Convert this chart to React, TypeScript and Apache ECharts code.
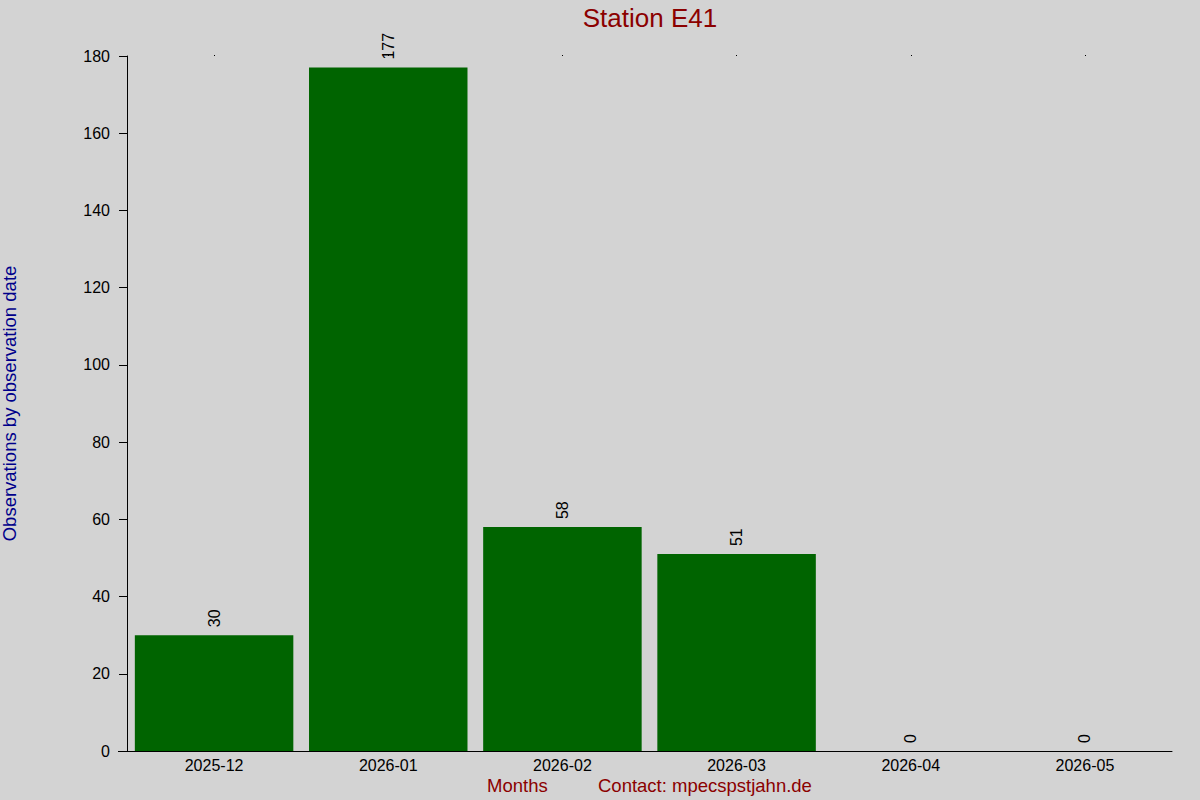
import { useEffect, useRef } from 'react'
import * as echarts from 'echarts'

const months = ['2025-12', '2026-01', '2026-02', '2026-03', '2026-04', '2026-05']
const observations = [30, 177, 58, 51, 0, 0]
const yTicks = [0, 20, 40, 60, 80, 100, 120, 140, 160, 180]

export default function App(): JSX.Element {
  const chartRef = useRef<HTMLDivElement>(null)

  useEffect(() => {
    if (!chartRef.current) return
    document.body.style.margin = '0'

    const chart = echarts.init(chartRef.current, null, { renderer: 'svg' })
    const font = 'Liberation Sans, Arial, sans-serif'

    const option: echarts.EChartsOption = {
      backgroundColor: '#d3d3d3',
      animation: false,
      textStyle: { fontFamily: font },
      title: {
        text: 'Station E41',
        left: 645,
        top: 0,
        textAlign: 'center',
        textStyle: { color: '#8b0000', fontSize: 26, fontWeight: 'normal', fontFamily: font }
      },
      // outerBoundsMode none: keep the plot box exactly where the margins put it
      grid: { left: 127, right: 28, top: 56, bottom: 49, outerBoundsMode: 'none' } as any,
      xAxis: [
        {
          type: 'category',
          data: months,
          axisLine: { lineStyle: { color: '#000', width: 1 } },
          axisTick: { show: false },
          axisLabel: { color: '#000', fontSize: 16, margin: 6, fontFamily: font }
        },
        {
          // tiny tick dots along the top edge
          type: 'category',
          data: months,
          position: 'top',
          axisLine: { show: false },
          axisTick: { show: true, alignWithLabel: true, length: 1, lineStyle: { color: '#000' } },
          axisLabel: { show: false }
        }
      ],
      yAxis: {
        type: 'value',
        min: yTicks[0],
        max: yTicks[yTicks.length - 1],
        interval: 20,
        name: 'Observations by observation date',
        nameLocation: 'middle',
        nameGap: 108,
        nameTextStyle: { color: '#00008b', fontSize: 18.5, fontFamily: font },
        axisLine: { show: true, lineStyle: { color: '#000' } },
        axisTick: { show: true, length: 8, lineStyle: { color: '#000' } },
        axisLabel: { color: '#000', fontSize: 16, margin: 17, fontFamily: font },
        splitLine: { show: false }
      },
      series: [
        {
          type: 'bar',
          data: observations,
          barCategoryGap: '9%',
          itemStyle: { color: '#006400' },
          label: {
            show: true,
            position: 'top',
            rotate: 90,
            align: 'left',
            verticalAlign: 'middle',
            distance: 8,
            color: '#000',
            fontSize: 16,
            fontFamily: font
          }
        }
      ],
      graphic: [
        {
          type: 'text',
          left: 487,
          top: 776,
          style: { text: 'Months', fill: '#8b0000', font: `18.5px ${font}` }
        },
        {
          type: 'text',
          left: 598,
          top: 776,
          style: { text: 'Contact: mpecspstjahn.de', fill: '#8b0000', font: `18.5px ${font}` }
        },
        {
          type: 'line',
          shape: { x1: 118, y1: 751.5, x2: 127, y2: 751.5 },
          style: { stroke: '#000', lineWidth: 1 }
        }
      ]
    }

    chart.setOption(option)
    return () => {
      chart.dispose()
    }
  }, [])

  return (
    <div
      ref={chartRef}
      style={{ position: 'absolute', left: 0, top: 0, width: 1200, height: 800 }}
    />
  )
}
